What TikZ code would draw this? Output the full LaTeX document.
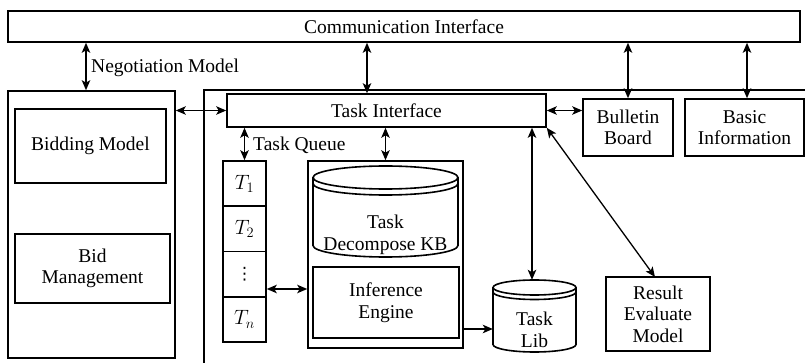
\documentclass[tikz,border=0pt]{standalone}
\usepackage{fontspec}
\setmainfont{Liberation Serif}
\newfontfamily\dvfont{DejaVu Sans}
\usetikzlibrary{arrows.meta}
\begin{document}
\begin{tikzpicture}[x=1pt,y=-1pt,
  txt/.style={font=\fontsize{19.5}{21.5}\selectfont, align=center, inner sep=0pt},
  box/.style={txt, draw, line width=1.6pt},
  ghost/.style={txt, draw=none},
  frame/.style={line width=1.6pt},
  dbl/.style={{Stealth[length=10pt,width=8.5pt,inset=2.5pt]}-{Stealth[length=10pt,width=8.5pt,inset=2.5pt]}, line width=1.3pt},
  one/.style={-{Stealth[length=10pt,width=8.5pt,inset=2.5pt]}, line width=1.3pt}]
\useasboundingbox (0,0) rectangle (805,363);
% top
\node[box, minimum width=792pt, minimum height=31pt] (comm) at (404,26.5) {Communication Interface};
% left block
\node[box, minimum width=167pt, minimum height=267pt] (left) at (91.5,224.5) {};
\node[box, minimum width=151pt, minimum height=74pt] (bid) at (90.5,146) {Bidding Model};
\node[box, minimum width=155pt, minimum height=69pt] (bidm) at (92.5,268.5) {Bid\\Management};
% big right frame (open right and bottom)
\draw[frame] (204,375) -- (204,90) -- (815,90);
% task interface
\node[box, minimum width=319pt, minimum height=33pt] (ti) at (386.5,110.5) {Task Interface};
\node[box, minimum width=90pt, minimum height=57pt] (bb) at (628,127.5) {Bulletin\\Board};
\node[box, minimum width=119pt, minimum height=57pt] (bi) at (744.5,127.5) {Basic\\Information};
% queue
\node[box, minimum width=43pt, minimum height=45.25pt] (q1) at (244.5,183.6) {$T_1$};
\node[box, minimum width=43pt, minimum height=45.25pt] (q2) at (244.5,228.9) {$T_2$};
\node[box, minimum width=43pt, minimum height=45.25pt, font=\dvfont\fontsize{17}{19}\selectfont] (q3) at (244.5,274.1) {⋮};
\node[box, minimum width=43pt, minimum height=45.25pt] (q4) at (244.5,319.4) {$T_n$};
% KB + inference
\node[box, minimum width=155pt, minimum height=187pt] (kbouter) at (385.5,254.5) {};
\draw[frame] (313,177.5) -- (313,245.5) arc[start angle=180, end angle=0, x radius=72.5, y radius=11.5] -- (458,177.5);
\draw[frame] (385.5,177.5) ellipse[x radius=72.5, y radius=11.5];
\draw[frame] (313,183.5) arc[start angle=180, end angle=0, x radius=72.5, y radius=11.5];
\node[ghost] (kb) at (385.5,235) {Task\\Decompose KB};
\node[box, minimum width=146pt, minimum height=71pt] (ie) at (386,302.5) {Inference\\Engine};
% task lib
\draw[frame] (493,287.5) -- (493,344.5) arc[start angle=180, end angle=0, x radius=41.5, y radius=7.5] -- (576,287.5);
\draw[frame] (534.5,287.5) ellipse[x radius=41.5, y radius=7.5];
\draw[frame] (493,292) arc[start angle=180, end angle=0, x radius=41.5, y radius=7.5];
\node[ghost, minimum width=83pt, minimum height=72pt] (tl) at (534.5,316) {};
\node[ghost] (tltxt) at (534.5,330) {Task\\Lib};
% result
\node[box, minimum width=104pt, minimum height=74pt] (rem) at (658,314) {Result\\Evaluate\\Model};
% helper coordinates
\coordinate (negx) at (86,0);
\coordinate (tix) at (367,0);
\coordinate (bix) at (747,0);
\coordinate (qy) at (0,289);
\coordinate (iey) at (0,329);
\coordinate (tlx) at (532,0);
\coordinate (remtop) at (655,277);
% connectors
\draw[dbl] (comm.south -| negx) -- (left.north -| negx);
\node[txt, anchor=west] (neg) at (91,68) {Negotiation Model};
\draw[dbl] (comm.south -| tix) -- (ti.north -| tix);
\draw[dbl] (comm.south -| bb.north) -- (bb.north);
\draw[dbl] (comm.south -| bix) -- (bi.north -| bix);
\draw[dbl] (ti.west -| left.east) -- (ti.west);
\draw[dbl] (ti.east) -- (ti.east -| bb.west);
\draw[dbl] (ti.south -| q1.north) -- (q1.north);
\node[txt, anchor=west] (tq) at (253,145) {Task Queue};
\draw[dbl] (ti.south -| kbouter.north) -- (kbouter.north);
\draw[dbl] (q3.east |- qy) -- (kbouter.west |- qy);
\draw[one] (kbouter.east |- iey) -- (tl.west |- iey);
\draw[dbl] (ti.south -| tlx) -- (tl.north -| tlx);
\draw[dbl] (ti.south east) -- (remtop);
\end{tikzpicture}
\end{document}
